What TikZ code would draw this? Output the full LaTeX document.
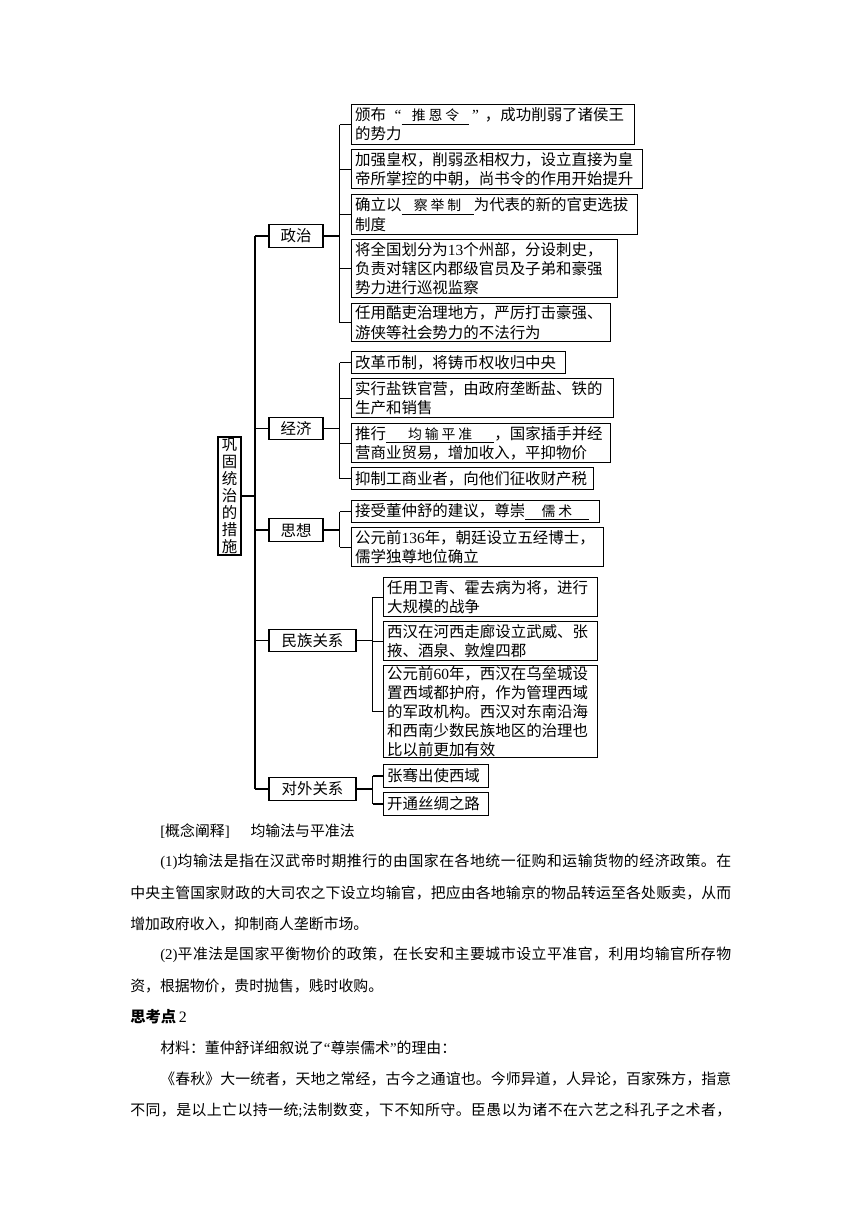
\documentclass[tikz,border=0pt]{standalone}
\usepackage{fontspec}
\setmainfont{Liberation Serif}
\newfontfamily\cjk{Noto Sans CJK SC}
\def\jlx#1{\ifx\relax#1\else#1\hfil\expandafter\jlx\fi}
\newcommand\jl[1]{\jlx#1\relax\unskip}
\newcommand\blank[2]{\underline{\makebox[#1]{\fontsize{9.6}{11}\selectfont #2}}}
\tikzset{
  leaf/.style={draw, line width=0.8pt, anchor=north west, inner xsep=2.5pt, inner ysep=0pt,
    align=left, font=\cjk\fontsize{10.7}{13.2}\selectfont},
  mid/.style={draw, line width=0.8pt, inner sep=0pt, minimum height=15.8pt,
    font=\cjk\fontsize{10.7}{13}\selectfont},
  link/.style={line width=0.8pt},
  para/.style={inner sep=0pt, anchor=west, font=\cjk\fontsize{10.3}{12}\selectfont},
}
\begin{document}
\begin{tikzpicture}[x=0.6922pt, y=-0.6922pt]
\useasboundingbox (0,0) rectangle (860,1216);

% root
\node[draw, line width=0.8pt, inner sep=0pt, minimum width=15.9pt, minimum height=81.7pt,
  align=center, font=\cjk\fontsize{10.7}{11.7}\selectfont] (root) at (229.5,496)
  {巩\\固\\统\\治\\的\\措\\施};

% middle labels
\node[mid, minimum width=37.4pt] (zz) at (296,236) {政治};
\node[mid, minimum width=37.4pt] (jj) at (296,428.5) {经济};
\node[mid, minimum width=37.4pt] (sx) at (296,530) {思想};
\node[mid, minimum width=60.2pt] (mz) at (312.5,640.5) {民族关系};
\node[mid, minimum width=60.2pt] (dw) at (312.5,789) {对外关系};

% politics leaves
\node[leaf, text width=190.9pt, minimum height=27.7pt] (p1) at (351,104)
  {颁布\makebox[1em][r]{\rmfamily “}\blank{47pt}{推\kern2pt 恩\kern2pt 令}\makebox[1em][l]{\rmfamily\,”}，成功削弱了诸侯王\\的势力};
\node[leaf, text width=196.4pt, minimum height=27.0pt] (p2) at (351,149)
  {加强皇权，削弱丞相权力，设立直接为皇\\帝所掌控的中朝，尚书令的作用开始提升};
\node[leaf, text width=193.0pt, minimum height=27.7pt] (p3) at (351,194)
  {确立以\blank{50pt}{察\kern2pt 举\kern2pt 制}为代表的新的官吏选拔\\制度};
\node[leaf, text width=179.1pt, minimum height=40.1pt] (p4) at (351,239)
  {将全国划分为{\rmfamily 13}个州部，分设刺史，\\负责对辖区内郡级官员及子弟和豪强\\势力进行巡视监察};
\node[leaf, text width=174.3pt, minimum height=26.3pt] (p5) at (351,303)
  {任用酷吏治理地方，严厉打击豪强、\\游侠等社会势力的不法行为};

% economy leaves
\node[leaf, text width=143.1pt, minimum height=15.2pt] (e1) at (351,351)
  {改革币制，将铸币权收归中央};
\node[leaf, text width=176.4pt, minimum height=27.0pt] (e2) at (351,378)
  {实行盐铁官营，由政府垄断盐、铁的\\生产和销售};
\node[leaf, text width=174.3pt, minimum height=27.0pt] (e3) at (351,423)
  {推行\blank{75pt}{均\kern2pt 输\kern2pt 平\kern2pt 准}，国家插手并经\\营商业贸易，增加收入，平抑物价};
\node[leaf, text width=162.5pt, minimum height=15.2pt] (e4) at (351,467)
  {抑制工商业者，向他们征收财产税};

% thought leaves
\node[leaf, text width=166.7pt, minimum height=15.2pt] (t1) at (351,500)
  {接受董仲舒的建议，尊崇\blank{44pt}{儒\kern2pt 术}};
\node[leaf, text width=169.4pt, minimum height=27.0pt] (t2) at (351,527)
  {公元前{\rmfamily 136}年，朝廷设立五经博士，\\儒学独尊地位确立};

% ethnic leaves
\node[leaf, text width=143.1pt, minimum height=27.0pt] (m1) at (383,577)
  {任用卫青、霍去病为将，进行\\大规模的战争};
\node[leaf, text width=143.1pt, minimum height=27.0pt] (m2) at (383,621)
  {西汉在河西走廊设立武威、张\\掖、酒泉、敦煌四郡};
\node[leaf, text width=143.1pt, minimum height=63.7pt] (m3) at (383,665)
  {公元前{\rmfamily 60}年，西汉在乌垒城设\\置西域都护府，作为管理西域\\的军政机构。西汉对东南沿海\\和西南少数民族地区的治理也\\比以前更加有效};

% foreign leaves
\node[leaf, text width=67.7pt, minimum height=15.9pt] (f1) at (383,764) {张骞出使西域};
\node[leaf, text width=67.7pt, minimum height=15.9pt] (f2) at (383,792) {开通丝绸之路};

% trunk
\coordinate (tk) at (255,496);
\draw[link] (root.east) -- (tk);
\draw[link] (tk |- zz.west) -- (tk |- dw.west);
\foreach \m in {zz,jj,sx,mz,dw} \draw[link] (tk |- \m.west) -- (\m.west);

% brackets
\draw[link] (zz.east) -- ++(16,0) coordinate (bz);
\draw[link] (bz |- p1.west) -- (bz |- p5.west);
\foreach \n in {p1,p2,p3,p4,p5} \draw[link] (bz |- \n.west) -- (\n.west);

\draw[link] (jj.east) -- ++(16,0) coordinate (bj);
\draw[link] (bj |- e1.west) -- (bj |- e4.west);
\foreach \n in {e1,e2,e3,e4} \draw[link] (bj |- \n.west) -- (\n.west);

\draw[link] (sx.east) -- ++(16,0) coordinate (bs);
\draw[link] (bs |- t1.west) -- (bs |- t2.west);
\foreach \n in {t1,t2} \draw[link] (bs |- \n.west) -- (\n.west);

\draw[link] (mz.east) -- ++(16,0) coordinate (bm);
\draw[link] (bm |- m1.west) -- (bm |- m3.west);
\foreach \n in {m1,m2,m3} \draw[link] (bm |- \n.west) -- (\n.west);

\draw[link] (dw.east) -- ++(16,0) coordinate (bd);
\draw[link] (bd |- f1.west) -- (bd |- f2.west);
\foreach \n in {f1,f2} \draw[link] (bd |- \n.west) -- (\n.west);

% text below
\node[para] (l0) at (160,831) {{\rmfamily[}概念阐释{\rmfamily]}\hspace{1.4em}均输法与平准法};
\node[para] (l1) at (160,862) {\hbox to 395.2pt{{\rmfamily(1)}\jl{均输法是指在汉武帝时期推行的由国家在各地统一征购和运输货物的经济政策。在}}};
\node[para] (l2) at (130,893) {\hbox to 416pt{\jl{中央主管国家财政的大司农之下设立均输官，把应由各地输京的物品转运至各处贩卖，从而}}};
\node[para] (l3) at (130,924) {增加政府收入，抑制商人垄断市场。};
\node[para] (l4) at (160,955) {\hbox to 395.2pt{{\rmfamily(2)}\jl{平准法是国家平衡物价的政策，在长安和主要城市设立平准官，利用均输官所存物}}};
\node[para] (l5) at (130,986) {资，根据物价，贵时抛售，贱时收购。};
\node[para, font=\cjk\bfseries\fontsize{10.6}{12}\selectfont] (l6) at (130,1017) {思考点\,{\rmfamily\mdseries\fontsize{11}{12}\selectfont 2}};
\node[para] (l7) at (160,1048) {材料：董仲舒详细叙说了{\rmfamily “}尊崇儒术{\rmfamily ”}的理由：};
\node[para] (l8) at (160,1079) {\hbox to 395.2pt{\jl{《春秋》大一统者，天地之常经，古今之通谊也。今师异道，人异论，百家殊方，指意}}};
\node[para] (l9) at (130,1110) {\hbox to 416pt{\jl{不同，是以上亡以持一统}{\rmfamily ;}\jl{法制数变，下不知所守。臣愚以为诸不在六艺之科孔子之术者，}}};
\end{tikzpicture}
\end{document}
